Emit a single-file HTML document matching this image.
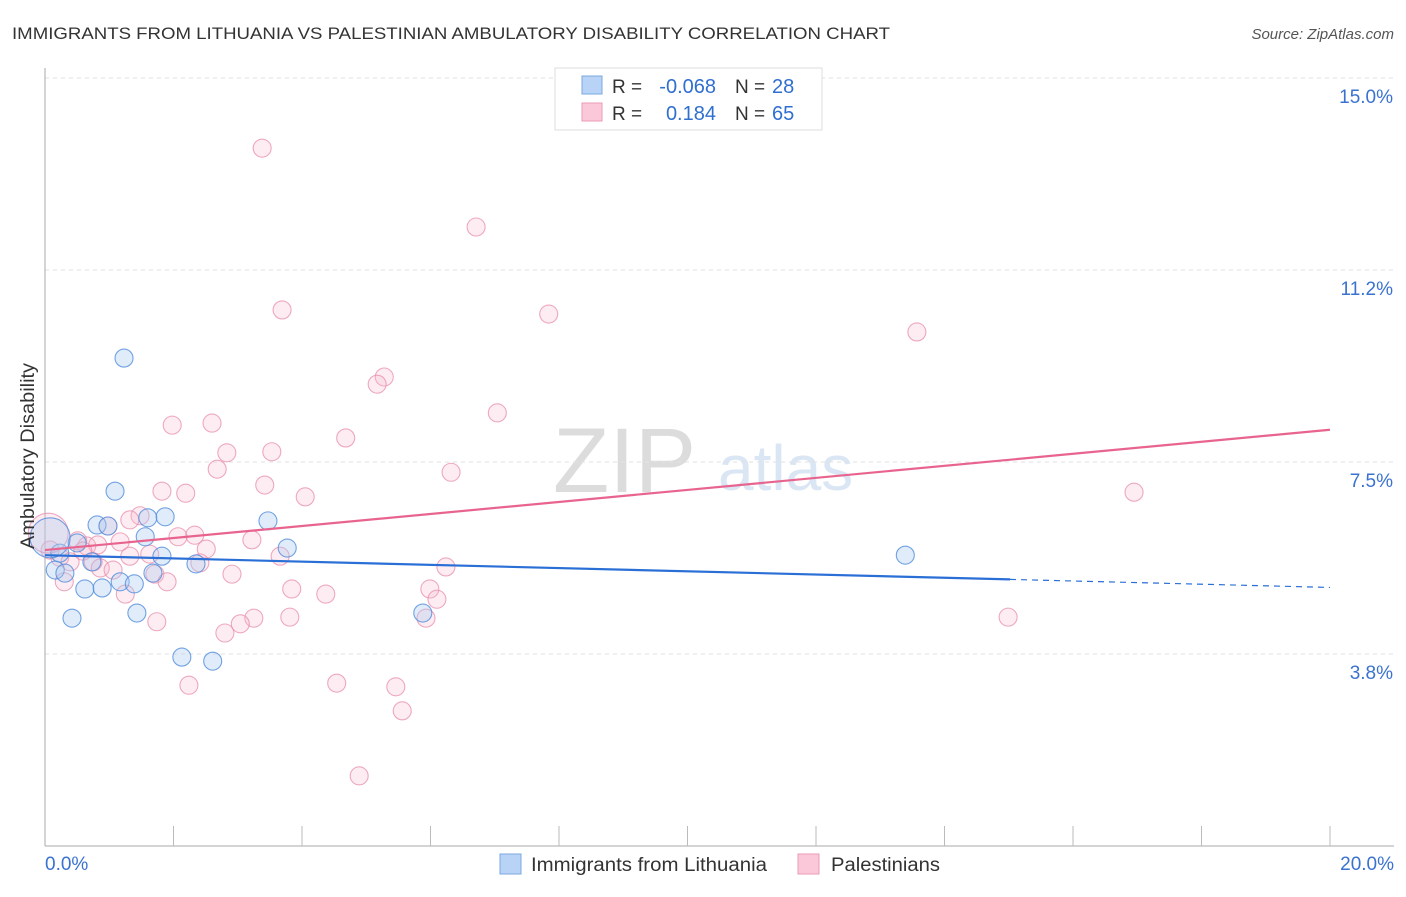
<!DOCTYPE html>
<html><head><meta charset="utf-8"><style>
body{margin:0;background:#fff;font-family:"Liberation Sans",sans-serif;}
svg text{font-family:"Liberation Sans",sans-serif;}
</style></head><body>
<svg id="chart" width="1406" height="892" xmlns="http://www.w3.org/2000/svg">
<text x="12" y="39" font-size="17" fill="#333" textLength="878" lengthAdjust="spacingAndGlyphs">IMMIGRANTS FROM LITHUANIA VS PALESTINIAN AMBULATORY DISABILITY CORRELATION CHART</text>
<text x="1394" y="39" font-size="15" fill="#555" font-style="italic" text-anchor="end">Source: ZipAtlas.com</text>
<g>
<text x="553" y="492" font-size="92" fill="#dcdcdc" font-family="Liberation Serif">ZIP</text>
<text x="718" y="490" font-size="64" fill="#ccdcf0" opacity="0.7">atlas</text>
</g>
<g id="grid"></g>
<g id="axes"></g>
<g id="pts"></g>
<g id="trends"></g>
<text x="34" y="456" font-size="19" fill="#333" text-anchor="middle" transform="rotate(-90 34 456)" textLength="186" lengthAdjust="spacingAndGlyphs">Ambulatory Disability</text>
<g>
<rect x="555" y="68" width="267" height="62" fill="#fff" stroke="#ddd"/>
<rect x="582" y="76" width="20" height="18" fill="#b8d3f5" stroke="#7aa8e0"/>
<rect x="582" y="103" width="20" height="18" fill="#fac8d8" stroke="#ec9cb6"/>
<text x="612" y="93" font-size="19" fill="#333">R =</text>
<text x="716" y="93" font-size="20" fill="#2f6fd0" text-anchor="end">-0.068</text>
<text x="735" y="93" font-size="19" fill="#333">N =</text>
<text x="772" y="93" font-size="20" fill="#2f6fd0">28</text>
<text x="612" y="120" font-size="19" fill="#333">R =</text>
<text x="716" y="120" font-size="20" fill="#2f6fd0" text-anchor="end">0.184</text>
<text x="735" y="120" font-size="19" fill="#333">N =</text>
<text x="772" y="120" font-size="20" fill="#2f6fd0">65</text>
</g>
<g>
<rect x="500" y="854" width="21" height="20" fill="#b8d3f5" stroke="#7aa8e0"/>
<text x="531" y="871" font-size="19" fill="#333" textLength="236" lengthAdjust="spacingAndGlyphs">Immigrants from Lithuania</text>
<rect x="798" y="854" width="21" height="20" fill="#fac8d8" stroke="#ec9cb6"/>
<text x="831" y="871" font-size="19" fill="#333" textLength="109" lengthAdjust="spacingAndGlyphs">Palestinians</text>
</g>
</svg>
<script>
const blueX=[1.23,1.09,0.81,0.98,1.60,1.87,3.47,1.56,0.50,3.77,1.82,2.35,0.16,0.31,0.73,1.68,1.17,1.39,0.62,0.89,1.43,0.42,5.88,2.13,2.61,13.39,0.23,0.08];
const blueY=[9.53,6.93,6.27,6.25,6.41,6.43,6.35,6.04,5.92,5.82,5.66,5.51,5.39,5.33,5.55,5.33,5.16,5.12,5.02,5.04,4.55,4.45,4.55,3.69,3.61,5.68,5.72,6.02];
const pinkX=[3.38,6.71,3.69,7.84,13.57,5.28,5.17,7.04,1.98,2.60,4.68,2.83,3.53,6.32,2.68,3.42,1.82,2.19,4.05,16.95,1.48,1.32,2.33,3.22,2.07,0.98,1.17,0.65,0.51,0.82,2.51,3.66,1.32,1.63,0.23,0.39,0.75,0.86,2.41,6.24,2.91,1.71,1.90,0.30,1.25,3.84,4.37,5.99,6.10,3.81,3.25,3.04,2.80,1.74,14.99,5.93,4.54,5.46,2.24,5.56,4.89,1.06,0.59,0.08,0.05];
const pinkY=[13.63,12.09,10.47,10.39,10.04,9.16,9.02,8.46,8.22,8.26,7.97,7.68,7.70,7.30,7.36,7.05,6.93,6.89,6.82,6.91,6.45,6.37,6.07,5.98,6.04,6.25,5.94,5.86,5.96,5.88,5.80,5.66,5.66,5.70,5.64,5.55,5.55,5.43,5.53,5.45,5.31,5.31,5.16,5.16,4.92,5.02,4.92,5.02,4.82,4.47,4.45,4.34,4.16,4.38,4.47,4.45,3.18,3.11,3.14,2.64,1.37,5.39,5.76,5.78,6.11];
const yTicks=[3.75,7.5,11.25,15];
const yTickLabels=["3.8%","7.5%","11.2%","15.0%"];
const xTickLabels=["0.0%","20.0%"];
const blueTrend=[5.68,5.05]; const blueSolidEnd=15.02;
const pinkTrend=[5.78,8.13];
const NS="http://www.w3.org/2000/svg";
const sx=v=>45+v/20*1285, sy=v=>846-v*51.2;
function mk(p,t,a){const e=document.createElementNS(NS,t);for(const k in a)e.setAttribute(k,a[k]);p.appendChild(e);return e;}
const grid=document.getElementById('grid'),axes=document.getElementById('axes'),pts=document.getElementById('pts'),tr=document.getElementById('trends');
yTicks.forEach((v,i)=>{
 const l=mk(grid,'line',{x1:45,x2:1394,y1:sy(v),y2:sy(v),stroke:'#e2e2e2','stroke-dasharray':'4,4'});
 
 
 const t=mk(axes,'text',{x:1393,y:sy(v)+25,'font-size':19,fill:'#3a72d0','text-anchor':'end'});
 t.textContent=yTickLabels[i];
 
 
});
const ay=mk(axes,'line',{x1:45,x2:45,y1:68,y2:846,stroke:'#aaa'});


const ax=mk(axes,'line',{x1:45,x2:1394,y1:846,y2:846,stroke:'#aaa'});


for(let i=1;i<=10;i++){
 const tk=mk(axes,'line',{x1:sx(i*2),x2:sx(i*2),y1:826,y2:846,stroke:'#bbb'});
 
 
}
[[0,'start',45],[20,'end',1394]].forEach((d,i)=>{
 const t=mk(axes,'text',{x:d[2],y:870,'font-size':19,fill:'#3a72d0','text-anchor':d[1]});
 t.textContent=xTickLabels[i];
 
 
});
function draw(X,Y,fill,stroke,name,bigIdx){
 X.forEach((x,i)=>{
  const c=mk(pts,'circle',{cx:sx(x),cy:sy(Y[i]),r:i===bigIdx?20:9,fill:fill,stroke:stroke,'stroke-width':1.1});
  
  
 });
}
draw(pinkX,pinkY,'rgba(248,185,205,0.25)','rgba(232,140,172,0.75)','point-palestinians',pinkX.length-1);
draw(blueX,blueY,'rgba(170,200,242,0.35)','rgba(80,140,220,0.8)','point-lithuania',blueX.length-1);
const by=x=>blueTrend[0]+(blueTrend[1]-blueTrend[0])*x/20;
const l1=mk(tr,'line',{x1:sx(0),y1:sy(by(0)),x2:sx(blueSolidEnd),y2:sy(by(blueSolidEnd)),stroke:'#2a6fd6','stroke-width':2.2});


const l2=mk(tr,'line',{x1:sx(blueSolidEnd),y1:sy(by(blueSolidEnd)),x2:sx(20),y2:sy(by(20)),stroke:'#2a6fd6','stroke-width':1.2,'stroke-dasharray':'6,5'});


const l3=mk(tr,'line',{x1:sx(0),y1:sy(pinkTrend[0]),x2:sx(20),y2:sy(pinkTrend[1]),stroke:'#e8648f','stroke-width':2.2});


</script>
</body></html>
